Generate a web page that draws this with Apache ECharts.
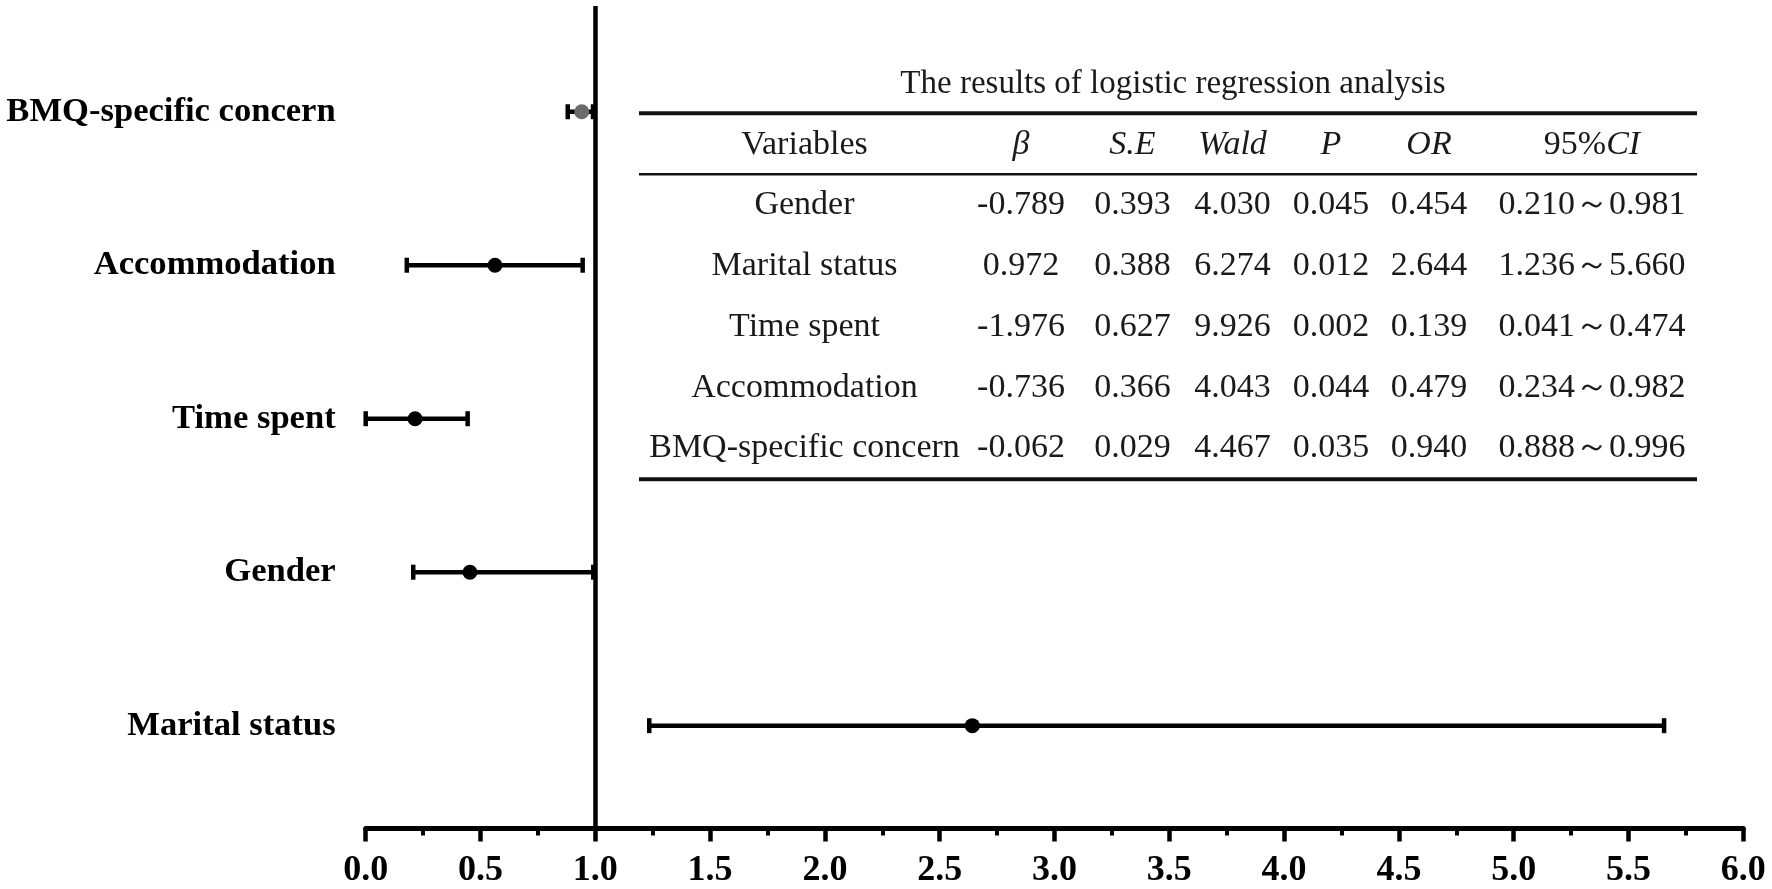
<!DOCTYPE html>
<html>
<head>
<meta charset="utf-8">
<script src="https://cdn.jsdelivr.net/npm/echarts@6/dist/echarts.min.js"></script>
<style>
html,body{margin:0;padding:0;background:#fff;}
#chart{width:1772px;height:889px;}
</style>
</head>
<body>
<div id="chart"></div>
<script>
// ---- Forest plot data (bottom to top) ----
const categories = ['Marital status', 'Gender', 'Time spent', 'Accommodation', 'BMQ-specific concern'];
const orValues = [2.642, 0.454, 0.215, 0.563, 0.941];
const ciLower  = [1.235, 0.207, 0.000, 0.179, 0.880];
const ciUpper  = [5.655, 0.991, 0.444, 0.945, 0.990];
const xTickValues = [0, 0.5, 1, 1.5, 2, 2.5, 3, 3.5, 4, 4.5, 5, 5.5, 6];
const rowPositions = [1, 2, 3, 4, 5];

// ---- Table contents ----
const tableTitle = 'The results of logistic regression analysis';
const tableHeader = ['Variables', 'β', 'S.E', 'Wald', 'P', 'OR', '95%CI'];
const tableVariables = ['Gender', 'Marital status', 'Time spent', 'Accommodation', 'BMQ-specific concern'];
const tableBeta = ['-0.789', '0.972', '-1.976', '-0.736', '-0.062'];
const tableSE   = ['0.393', '0.388', '0.627', '0.366', '0.029'];
const tableWald = ['4.030', '6.274', '9.926', '4.043', '4.467'];
const tableP    = ['0.045', '0.012', '0.002', '0.044', '0.035'];
const tableOR   = ['0.454', '2.644', '0.139', '0.479', '0.940'];
const tableCI   = ['0.210～0.981', '1.236～5.660', '0.041～0.474', '0.234～0.982', '0.888～0.996'];

const SERIF = '"Liberation Serif","Times New Roman",serif';
const chart = echarts.init(document.getElementById('chart'));

// table graphic elements
const colX = [804.5, 1021, 1132.5, 1232.5, 1331, 1429, 1592];
const headerY = 145;
const rowY = [205, 266, 327, 388, 448.5];
const tableFont = '34px ' + SERIF;
const italicFont = 'italic 34px ' + SERIF;
const textColor = '#1a1a1a';
const graphics = [];
graphics.push({type:'text', x:1173, y:84, silent:true,
  style:{text:tableTitle, font:'33px ' + SERIF, fill:textColor, align:'center', verticalAlign:'middle'}});
graphics.push({type:'line', silent:true, shape:{x1:639, y1:113.3, x2:1697, y2:113.3}, style:{stroke:'#111', lineWidth:4}});
graphics.push({type:'line', silent:true, shape:{x1:639, y1:174.3, x2:1697, y2:174.3}, style:{stroke:'#111', lineWidth:2.5}});
graphics.push({type:'line', silent:true, shape:{x1:639, y1:479.3, x2:1697, y2:479.3}, style:{stroke:'#111', lineWidth:4}});
tableHeader.forEach((h, i) => {
  let style;
  if (i === 0) {
    style = {text:h, font:tableFont};
  } else if (i === 6) {
    style = {text:'95%{i|CI}', font:tableFont, rich:{i:{fontStyle:'italic', fontSize:34, fontFamily:SERIF, fill:textColor}}};
  } else {
    style = {text:h, font:italicFont};
  }
  style.fill = textColor; style.align = 'center'; style.verticalAlign = 'middle';
  graphics.push({type:'text', x:colX[i], y:headerY, silent:true, style:style});
});
const tableCols = [tableVariables, tableBeta, tableSE, tableWald, tableP, tableOR, tableCI];
tableCols.forEach((col, c) => {
  col.forEach((v, r) => {
    graphics.push({type:'text', x:colX[c], y:rowY[r], silent:true,
      style:{text:v, font:tableFont, fill:textColor, align:'center', verticalAlign:'middle'}});
  });
});

const errData = categories.map((c, i) => [ciLower[i], ciUpper[i], rowPositions[i]]);
const pointData = categories.map((c, i) => ({
  value: [orValues[i], rowPositions[i]],
  itemStyle: { color: i === 4 ? '#6b6b6b' : '#000', opacity: 1 }
}));

const option = {
  backgroundColor: '#fff',
  animation: false,
  grid: { left: 365.7, right: 28.7, top: 6, bottom: 60.5, containLabel: false },
  xAxis: {
    type: 'value', min: 0, max: 6, interval: 0.5,
    axisLine: { show: true, onZero: false, lineStyle: { color: '#000', width: 5 } },
    axisTick: { show: true, length: 13, lineStyle: { color: '#000', width: 4.5 } },
    minorTick: { show: true, splitNumber: 2, length: 7, lineStyle: { color: '#000', width: 4 } },
    splitLine: { show: false },
    axisLabel: {
      margin: 24, color: '#000', fontSize: 36, fontWeight: 'bold', fontFamily: SERIF,
      customValues: xTickValues,
      formatter: v => Number(v).toFixed(1)
    }
  },
  yAxis: {
    type: 'value', min: 0.33, max: 5.689,
    axisLine: { show: false },
    axisTick: { show: false },
    splitLine: { show: false },
    axisLabel: {
      margin: 30, color: '#000', fontSize: 34.6, fontWeight: 'bold', fontFamily: SERIF,
      customValues: rowPositions,
      formatter: v => (Math.abs(v - Math.round(v)) < 1e-6 && categories[Math.round(v) - 1]) ? categories[Math.round(v) - 1] : ''
    }
  },
  graphic: graphics,
  series: [
    {
      type: 'custom',
      data: errData,
      encode: { x: [0, 1], y: 2 },
      clip: false,
      z: 3,
      renderItem: function (params, api) {
        const p1 = api.coord([api.value(0), api.value(2)]);
        const p2 = api.coord([api.value(1), api.value(2)]);
        const h = 7.5;
        const st = { stroke: '#000', lineWidth: 4.5 };
        return {
          type: 'group',
          children: [
            { type: 'line', shape: { x1: p1[0], y1: p1[1], x2: p2[0], y2: p2[1] }, style: st },
            { type: 'line', shape: { x1: p1[0], y1: p1[1] - h, x2: p1[0], y2: p1[1] + h }, style: st },
            { type: 'line', shape: { x1: p2[0], y1: p2[1] - h, x2: p2[0], y2: p2[1] + h }, style: st }
          ]
        };
      },
      markLine: {
        silent: true, symbol: 'none', label: { show: false },
        lineStyle: { color: '#000', width: 4.5, type: 'solid' },
        data: [{ xAxis: 1 }]
      }
    },
    {
      type: 'scatter',
      data: pointData,
      symbol: 'circle',
      symbolSize: 15,
      itemStyle: { opacity: 1 },
      z: 4
    }
  ]
};
chart.setOption(option);
</script>
</body>
</html>
